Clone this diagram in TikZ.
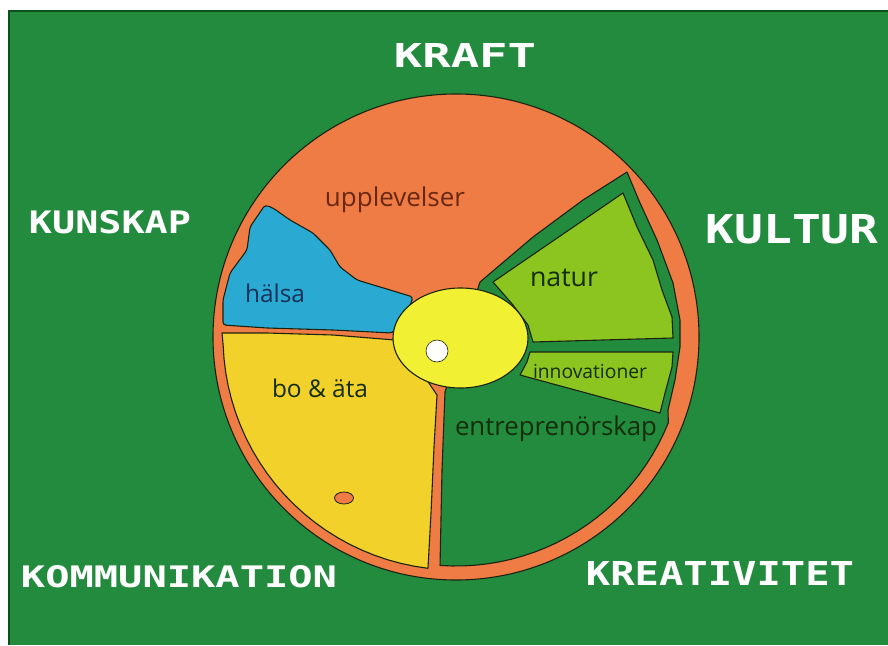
\documentclass[tikz,border=0pt]{standalone}
\usepackage{graphicx}
\usepackage{fontspec}
\setmainfont{Open Sans}
\newfontfamily\pixfont{DejaVu Sans Mono}
\definecolor{bggreen}{RGB}{35,139,61}
\definecolor{edgegreen}{RGB}{12,80,28}
\definecolor{orng}{RGB}{240,124,69}
\definecolor{blu}{RGB}{42,170,210}
\definecolor{gold}{RGB}{242,210,42}
\definecolor{lgreen}{RGB}{140,197,32}
\definecolor{cyel}{RGB}{242,240,50}
\definecolor{outl}{RGB}{25,35,15}
\definecolor{brownred}{RGB}{105,40,20}
\definecolor{navy}{RGB}{22,50,90}
\definecolor{dkgreen}{RGB}{20,45,12}
\tikzset{
  outl/.style={draw=outl, line width=1.1pt, line join=round},
  title/.style={text=white, inner sep=0pt, font=\pixfont\bfseries},
  lbl/.style={inner sep=0pt},
}
\begin{document}
\begin{tikzpicture}[x=1pt,y=-1pt]
\useasboundingbox (0,0) rectangle (888,645);
\fill[white] (0,0) rectangle (888,645);
\fill[bggreen] (8,10) rectangle (888,645);
\draw[edgegreen, line width=2pt] (9,645) -- (9,11) -- (888,11);

% main disc
\draw[outl, fill=orng] (456,337) circle [radius=243pt];

% green wedge (entreprenorskap area)
\draw[outl, fill=bggreen] (480,282) -- (533,237) -- (583,200) -- (627,172)
  -- (640,203) -- (657,240) -- (673,283) -- (680,320) -- (680,347) -- (675,380) -- (668,410)
  -- plot[domain=22:94, samples=25] ({456+229*cos(\x)},{337+229*sin(\x)})
  -- (442,470) -- (445,392) -- (462,338) -- cycle;

% bo & ata
\draw[outl, fill=gold] (222,333) -- (267,333) -- (333,335) -- (395,340) -- (420,370) -- (437,395)
  -- (434,447) -- (431,513) -- (428,568)
  -- plot[domain=97:178, samples=25] ({456+233*cos(\x)},{337+233*sin(\x)}) -- cycle;

% halsa
\draw[outl, fill=blu, rounded corners=3pt] (265,205) -- (273,208) -- (290,220) -- (313,233) -- (330,250)
  -- (340,267) -- (357,280) -- (400,293) -- (413,297) -- (405,320) -- (392,333) -- (333,330)
  -- (267,328) -- (223,325) -- (223,300) -- (230,273) -- (247,250) -- (250,227) -- cycle;

% natur
\draw[outl, fill=lgreen] (493,282) -- (623,193) -- (637,227) -- (653,260) -- (662,290) -- (672,317)
  -- (673,338) -- (533,342) -- (528,325) -- (513,305) -- cycle;

% innovationer
\draw[outl, fill=lgreen] (530,352) -- (673,352) -- (672,367) -- (665,393) -- (660,413)
  -- (520,375) -- (527,362) -- cycle;

% centre
\draw[outl, fill=cyel] (460.5,338) ellipse [x radius=67.5pt, y radius=50pt];
\draw[outl, line width=0.6pt, fill=white] (437,351) circle [radius=11pt];
\draw[outl, line width=0.8pt, fill=orng] (344,498) ellipse [x radius=9.5pt, y radius=6pt];

% labels inside
\node[lbl, text=brownred] (upp) at (395,200) {\resizebox{140pt}{!}{upplevelser}};
\node[lbl, text=navy] (hal) at (275,293) {\resizebox{60pt}{!}{hälsa}};
\node[lbl, text=dkgreen] (nat) at (564,278) {\resizebox{68pt}{!}{natur}};
\node[lbl, text=dkgreen] (inn) at (590,372) {\resizebox{114pt}{!}{innovationer}};
\node[lbl, text=dkgreen] (bo) at (320,388) {\resizebox{96pt}{!}{bo \& äta}};
\node[lbl, text=dkgreen] (ent) at (556,429) {\resizebox{202pt}{!}{entreprenörskap}};

% titles
\node[title] (kraft) at (465,55) {\resizebox{142pt}{24pt}{KRAFT}};
\node[title] (kunskap) at (110,222.5) {\resizebox{162pt}{23pt}{KUNSKAP}};
\node[title] (kultur) at (792,229) {\resizebox{173pt}{29pt}{KULTUR}};
\node[title] (komm) at (179,576.5) {\resizebox{316pt}{22pt}{KOMMUNIKATION}};
\node[title] (kreat) at (720,573.5) {\resizebox{268pt}{24pt}{KREATIVITET}};
\end{tikzpicture}
\end{document}
